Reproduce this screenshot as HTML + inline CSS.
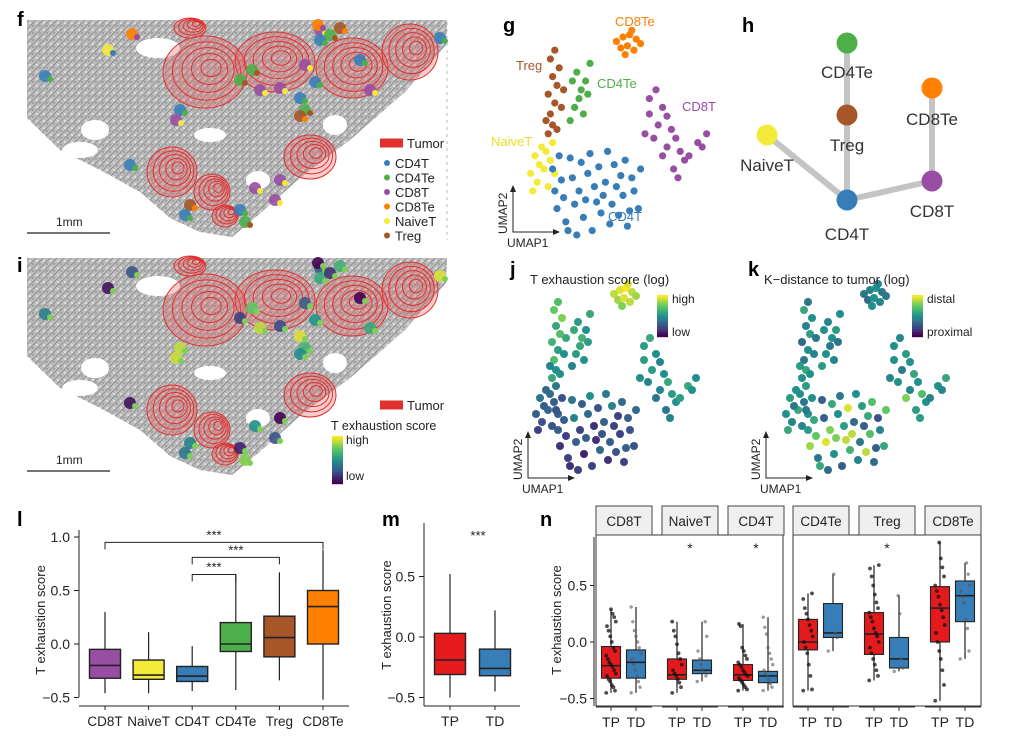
<!DOCTYPE html>
<html><head><meta charset="utf-8"><style>
body{margin:0;background:#fff;font-family:"Liberation Sans",sans-serif}
svg text{font-family:"Liberation Sans",sans-serif}
</style></head><body>
<svg id="fig" width="1030" height="743" viewBox="0 0 1030 743" xmlns="http://www.w3.org/2000/svg">
<defs>
<pattern id="tex" width="7" height="7" patternUnits="userSpaceOnUse"><rect width="7" height="7" fill="#bdbdbd"/><path d="M0 7L7 0" stroke="#8a8a8a" stroke-width="0.9"/><circle cx="2" cy="2" r="1" fill="#e6e6e6"/><circle cx="5" cy="5" r="0.7" fill="#777"/></pattern>
</defs>
<g id="tissueF"></g>
<g id="tissueI"></g>
<g id="panels"></g>
</svg>
<script>
// ---------- data ----------
const cellTypes=["CD8T","NaiveT","CD4T","CD4Te","Treg","CD8Te"];
const typeColors=["#984ea3","#f4ea3a","#377eb8","#4daf4a","#a65628","#ff7f00"];
const lMin=[-0.46,-0.46,-0.44,-0.43,-0.34,-0.52];
const lQ1=[-0.32,-0.33,-0.35,-0.07,-0.12,0.0];
const lMed=[-0.2,-0.29,-0.3,0.0,0.06,0.35];
const lQ3=[-0.05,-0.15,-0.21,0.2,0.26,0.5];
const lMax=[0.3,0.11,-0.02,0.65,0.67,0.88];
const lTicks=[1.0,0.5,0.0,-0.5];
const lTickLabels=["1.0","0.5","0.0","\u22120.5"];
const mGroups=["TP","TD"];
const mMin=[-0.5,-0.45],mQ1=[-0.31,-0.32],mMed=[-0.19,-0.26],mQ3=[0.03,-0.1],mMax=[0.52,0.22];
const mTicks=[0.5,0.0,-0.5];
const nTP_min=[-0.45,-0.45,-0.43,-0.43,-0.34,-0.52];
const nTP_q1=[-0.32,-0.33,-0.34,-0.07,-0.11,0.0];
const nTP_med=[-0.21,-0.29,-0.29,0.0,0.07,0.3];
const nTP_q3=[-0.04,-0.15,-0.2,0.2,0.26,0.49];
const nTP_max=[0.29,0.18,0.16,0.43,0.68,0.88];
const nTD_min=[-0.45,-0.35,-0.43,-0.08,-0.26,-0.15];
const nTD_q1=[-0.32,-0.28,-0.36,0.04,-0.23,0.18];
const nTD_med=[-0.18,-0.25,-0.3,0.08,-0.15,0.41];
const nTD_q3=[-0.07,-0.16,-0.26,0.34,0.04,0.54];
const nTD_max=[0.31,0.18,0.22,0.6,0.41,0.7];
const nSig=["","*","*","","*",""];
const nTP_pts=[
[-0.45,-0.43,-0.4,-0.38,-0.35,-0.33,-0.3,-0.28,-0.25,-0.22,-0.2,-0.18,-0.15,-0.12,-0.08,-0.05,0.0,0.05,0.1,0.14,0.18,0.22,0.25,0.29],
[-0.45,-0.4,-0.36,-0.33,-0.3,-0.28,-0.25,-0.2,-0.15,-0.1,-0.02,0.05,0.1,0.18],
[-0.43,-0.42,-0.4,-0.38,-0.36,-0.34,-0.32,-0.3,-0.29,-0.27,-0.25,-0.22,-0.2,-0.18,-0.15,-0.12,-0.08,-0.05,0.14,0.16],
[-0.43,-0.42,-0.3,-0.2,-0.1,-0.05,0.0,0.05,0.1,0.15,0.2,0.25,0.3,0.38,0.43],
[-0.34,-0.3,-0.25,-0.2,-0.15,-0.1,-0.05,0.0,0.05,0.08,0.12,0.18,0.22,0.26,0.3,0.35,0.42,0.5,0.58,0.65,0.68],
[-0.52,-0.38,-0.25,-0.15,-0.08,0.0,0.08,0.15,0.22,0.28,0.33,0.4,0.45,0.5,0.58,0.66,0.74,0.88]];
const nTD_pts=[
[-0.45,-0.4,-0.35,-0.3,-0.25,-0.2,-0.15,-0.1,-0.05,0.0,0.05,0.1,0.18,0.31],
[-0.35,-0.3,-0.27,-0.24,-0.2,-0.15,-0.08,0.05,0.18],
[-0.43,-0.4,-0.37,-0.34,-0.31,-0.28,-0.25,-0.2,-0.15,-0.1,-0.05,0.07,0.13,0.22],
[-0.08,0.04,0.08,0.6],
[-0.26,-0.23,-0.15,0.25,0.41],
[-0.15,-0.08,0.12,0.2,0.35,0.4,0.45,0.5,0.6,0.7]];
// UMAP points: [u, v, exhaustion score 0-1, distance 0-1]
const umapCD4T=[[18,30,.25,.4],[22,25,.3,.6],[26,35,.4,.3],[30,20,.2,.8],[34,28,.35,.5],[38,15,.15,.9],[42,24,.3,.35],[46,32,.45,.55],[50,18,.2,.7],[54,26,.3,.25],[57,12,.25,.6],[20,12,.15,.85],[24,6,.2,.4],[28,14,.3,.95],[32,8,.1,.5],[36,2,.2,.3],[40,10,.35,.65],[44,5,.15,.45],[48,9,.25,.9],[52,4,.2,.35],[19,20,.3,.55],[23,17,.2,.75],[27,26,.45,.3],[31,33,.3,.6],[35,37,.5,.4],[39,31,.25,.95],[43,38,.4,.5],[47,22,.2,.3],[51,34,.35,.7],[55,20,.25,.45],[25,2,.15,.6],[29,0,.2,.35],[33,16,.3,.8],[37,22,.15,.55],[41,18,.25,.9],[45,14,.3,.4],[49,27,.2,.6],[53,11,.3,.3],[58,30,.35,.75],[21,36,.25,.5]];
const umapTreg=[[16,46,.6,.5],[18,50,.5,.6],[17,55,.7,.4],[19,60,.55,.5],[16,64,.65,.35],[20,68,.7,.55],[18,72,.6,.45],[21,76,.8,.5],[17,80,.75,.6],[19,84,.7,.4],[22,58,.5,.45],[15,52,.45,.55],[20,48,.5,.5],[23,66,.6,.4]];
const umapCD8Te=[[47,88,.9,.4],[50,90,.95,.45],[53,91,1,.5],[56,89,.9,.4],[49,85,.85,.35],[52,86,.95,.5],[55,84,.9,.45],[58,87,.85,.4],[51,82,.8,.5],[54,93,.95,.45]];
const umapCD4Te=[[27,70,.6,.5],[29,74,.55,.45],[31,66,.65,.5],[33,70,.5,.55],[30,62,.6,.4],[28,58,.55,.5],[32,55,.5,.45],[35,78,.6,.5],[26,52,.45,.55],[34,64,.55,.4]];
const umapCD8T=[[62,62,.55,.5],[65,66,.6,.45],[68,58,.5,.55],[70,54,.45,.5],[66,50,.55,.4],[72,48,.5,.6],[74,44,.6,.5],[70,40,.45,.45],[76,38,.55,.7],[78,34,.5,.5],[73,30,.4,.55],[80,36,.55,.45],[84,42,.6,.5],[88,46,.5,.6],[64,44,.45,.5],[60,46,.5,.45],[68,36,.4,.8],[75,26,.45,.55],[62,55,.55,.5],[86,40,.5,.45]];
const umapNaiveT=[[8,28,.3,.5],[11,24,.25,.45],[14,30,.35,.6],[17,34,.3,.4],[10,36,.4,.55],[13,40,.35,.5],[16,22,.25,.45],[19,28,.3,.5],[9,20,.2,.6],[12,32,.3,.4],[15,38,.35,.5],[18,42,.4,.55]];
const umapSets=[umapCD8T,umapNaiveT,umapCD4T,umapCD4Te,umapTreg,umapCD8Te];
const treeNames=["CD4Te","Treg","CD8Te","NaiveT","CD4T","CD8T"];
const treeX=[847,847,932,767,847,932],treeY=[43,115,88,135,200,181];
const treeColors=["#4daf4a","#a65628","#ff7f00","#f4ea3a","#377eb8","#984ea3"];
const treeEdges=[[0,1],[1,4],[3,4],[4,5],[5,2]];

// ---------- helpers ----------
const NS="http://www.w3.org/2000/svg";
const root=document.getElementById('panels');
function mk(tag,at,parent){const e=document.createElementNS(NS,tag);for(const k in at)e.setAttribute(k,at[k]);(parent||root).appendChild(e);return e;}
function txt(x,y,s,at,parent){const e=mk('text',Object.assign({x:x,y:y,'font-size':13,fill:'#222'},at||{}),parent);e.textContent=s;return e;}
function viridis(t){const st=[[68,1,84],[59,82,139],[33,145,140],[94,201,98],[253,231,37]];t=Math.max(0,Math.min(1,t))*4;const i=Math.min(3,Math.floor(t)),f=t-i;const a=st[i],b=st[i+1];return `rgb(${a.map((v,k)=>Math.round(v+(b[k]-v)*f)).join(',')})`;}

// ---------- tissue maps ----------
function tissue(g,dy,mode){
 const p=mk('path',{d:`M27 ${20+dy} L447 ${20+dy} L446 ${45+dy} L405 ${92+dy} L350 ${140+dy} L300 ${178+dy} L262 ${212+dy} L232 ${237+dy} L200 ${232+dy} L170 ${218+dy} L140 ${192+dy} L100 ${170+dy} L60 ${150+dy} L27 ${118+dy} Z`,fill:'url(#tex)'},g);
 
 [[80,150,18,8],[95,130,14,10],[158,48,22,10],[210,135,16,7],[335,125,12,10],[258,180,12,9]].forEach(h=>mk('ellipse',{cx:h[0],cy:h[1]+dy,rx:h[2],ry:h[3],fill:'#fff'},g));
 const blobs=[[205,72,42,36],[275,62,40,30],[352,68,36,30],[410,52,28,28],[190,28,16,10],[172,172,25,25],[212,192,18,18],[310,157,26,22],[225,216,13,11]];
 blobs.forEach(b=>{mk('ellipse',{cx:b[0],cy:b[1]+dy,rx:b[2],ry:b[3],fill:'rgba(235,90,90,0.3)',stroke:'#e03030','stroke-width':1},g);
  for(let k=1;k<5;k++)mk('ellipse',{cx:b[0]+k*1.5,cy:b[1]+dy-k,rx:b[2]*(1-k*0.19),ry:b[3]*(1-k*0.19),fill:'none',stroke:'#e03030','stroke-width':1},g);});
 const cells=[[45,76,2],[108,50,1],[132,34,5],[320,30,0],[320,40,2],[340,28,4],[305,65,0],[315,82,2],[360,60,2],[370,90,0],[180,110,2],[176,120,0],[240,80,3],[260,90,0],[280,88,0],[305,110,3],[300,98,2],[440,38,2],[255,188,0],[275,200,0],[240,210,2],[245,222,3],[190,205,4],[130,165,2],[185,215,2],[280,180,0],[318,25,5],[330,35,3],[252,70,3],[300,116,4]];
 cells.forEach(c=>{const col=mode==='type'?typeColors[c[2]]:viridis(((c[0]*7+c[1]*3)%100)/100);
  mk('circle',{cx:c[0],cy:c[1]+dy,r:6,fill:col,opacity:0.9},g);mk('circle',{cx:c[0]+5,cy:c[1]+dy+3,r:3,fill:mode==='type'?typeColors[(c[2]+1)%6]:viridis(0.8)},g);});
 mk('line',{x1:27,y1:233+dy,x2:110,y2:233+dy,stroke:'#222','stroke-width':1.2},g);
 txt(56,226+dy,'1mm',{'font-size':12},g);
 const ly=mode==='type'?143:405;
 mk('line',{x1:380,y1:ly,x2:403,y2:ly,stroke:'#e03030','stroke-width':9},g);
}
const gF=document.getElementById('tissueF'),gI=document.getElementById('tissueI');
tissue(gF,0,'type');tissue(gI,238,'score');
txt(407,148,'Tumor',{},gF);
["CD4T","CD4Te","CD8T","CD8Te","NaiveT","Treg"].forEach((n,i)=>{const ci=[2,3,0,5,1,4][i];
 mk('circle',{cx:387,cy:163+i*14.5,r:3,fill:typeColors[ci]},gF);txt(395,168+i*14.5,n,{},gF);});
txt(407,410,'Tumor',{},gI);
txt(331,430,'T exhaustion score',{'font-size':12.5},gI);
for(let k=0;k<24;k++)mk('rect',{x:332,y:436+k*2,width:11,height:2.2,fill:viridis(1-k/23)},gI);
txt(346,444,'high',{'font-size':12},gI);txt(346,480,'low',{'font-size':12},gI);
mk('line',{x1:447,y1:22,x2:447,y2:240,stroke:'#bbb','stroke-dasharray':'3 4'},gF);

// panel letters
[['f',17,26],['g',503,32],['h',742,32],['i',17,272],['j',510,276],['k',748,276],['l',17,526],['m',382,526],['n',540,526]].forEach(l=>{const t=txt(l[1],l[2],l[0],{'font-size':20,'font-weight':'bold',fill:'#000'});});

// ---------- UMAP panels ----------
function umap(ox,oy,sc,colorFn,gname,r){
 const g=mk('g',{});
 const X=u=>ox+u*sc, Y=v=>oy-v*sc;
 umapSets.forEach((set,ci)=>set.forEach(p=>{const c=mk('circle',{cx:X(p[0]),cy:Y(p[1]),r:r,fill:colorFn(p,ci)},g);}));
 return g;
}
umap(513,235,2.2,(p,ci)=>typeColors[ci],'umap-celltype',3.6);
[['CD8Te',615,26,'#ff7f00'],['Treg',516,70,'#a65628'],['CD4Te',597,88,'#4daf4a'],['CD8T',682,111,'#984ea3'],['NaiveT',491,146,'#e8df20'],['CD4T',608,221,'#377eb8']].forEach(a=>txt(a[1],a[2],a[0],{fill:a[3],'font-size':13}));
function axesArrow(x,y){mk('path',{d:`M${x} ${y-45}L${x} ${y}L${x+45} ${y}`,fill:'none',stroke:'#222','stroke-width':1});
 mk('path',{d:`M${x-3} ${y-40}L${x} ${y-47}L${x+3} ${y-40}Z`,fill:'#222'});mk('path',{d:`M${x+40} ${y-3}L${x+47} ${y}L${x+40} ${y+3}Z`,fill:'#222'});
 txt(x-6,y+2,'UMAP2',{transform:`rotate(-90 ${x-6} ${y+2})`,'font-size':12});txt(x-6,y+15,'UMAP1',{'font-size':12});}
axesArrow(513,232);axesArrow(528,478);axesArrow(766,478);
umap(520,470,2.0,p=>viridis(p[2]),'umap-exhaustion',4);
umap(770,470,2.0,p=>viridis(p[3]),'umap-distance',4);
txt(530,284,'T exhaustion score (log)',{'font-size':13});
txt(764,284,'K\u2212distance to tumor (log)',{'font-size':13});
for(let k=0;k<20;k++){mk('rect',{x:657,y:295+k*2.1,width:11,height:2.3,fill:viridis(1-k/19)});mk('rect',{x:912,y:295+k*2.1,width:11,height:2.3,fill:viridis(1-k/19)});}
txt(672,303,'high',{'font-size':12});txt(672,336,'low',{'font-size':12});
txt(927,303,'distal',{'font-size':12});txt(927,336,'proximal',{'font-size':12});

// ---------- tree h ----------
treeEdges.forEach(e=>mk('line',{x1:treeX[e[0]],y1:treeY[e[0]],x2:treeX[e[1]],y2:treeY[e[1]],stroke:'#c4c4c4','stroke-width':6}));
treeNames.forEach((n,i)=>{const c=mk('circle',{cx:treeX[i],cy:treeY[i],r:10.5,fill:treeColors[i]});
 const ly=[73,146,120,166,235,212][i];txt(treeX[i],ly+5,n,{'text-anchor':'middle','font-size':17,fill:'#333'});});

// ---------- box helper ----------
function box(cx,w,Y,mn,q1,md,q3,mx,fill,name,lw){
 const g=mk('g',{});
 mk('line',{x1:cx,y1:Y(mx),x2:cx,y2:Y(mn),stroke:'#222','stroke-width':1.2},g);
 mk('rect',{x:cx-w/2,y:Y(q3),width:w,height:Y(q1)-Y(q3),fill:fill,stroke:'#222','stroke-width':lw||1.4},g);
 mk('line',{x1:cx-w/2,y1:Y(md),x2:cx+w/2,y2:Y(md),stroke:'#222','stroke-width':1.6},g);
 return g;}

// ---------- panel l ----------
const lY=v=>644-107*v;
const lX=i=>105+i*43.6;
mk('line',{x1:79,y1:530,x2:79,y2:697,stroke:'#222'});mk('line',{x1:79,y1:706,x2:349,y2:706,stroke:'#222'});
lTicks.forEach((t,i)=>{mk('line',{x1:74,y1:lY(t),x2:79,y2:lY(t),stroke:'#222'});txt(70,lY(t)+5,lTickLabels[i],{'text-anchor':'end','font-size':14});});
txt(45,620,'T exhaustion score',{transform:'rotate(-90 45 620)','text-anchor':'middle','font-size':13});
cellTypes.forEach((c,i)=>{box(lX(i),31,lY,lMin[i],lQ1[i],lMed[i],lQ3[i],lMax[i],typeColors[i],'box-'+c.toLowerCase());
 mk('line',{x1:lX(i),y1:706,x2:lX(i),y2:710,stroke:'#222'});txt(lX(i),726,c,{'text-anchor':'middle','font-size':13.5});});
[[0,5,0.95],[2,4,0.81],[2,3,0.65]].forEach(b=>{const y=lY(b[2]);mk('path',{d:`M${lX(b[0])} ${y+7}V${y}H${lX(b[1])}V${y+7}`,fill:'none',stroke:'#222'});txt((lX(b[0])+lX(b[1]))/2,y-3,'***',{'text-anchor':'middle','font-size':13});});

// ---------- panel m ----------
const mY=v=>637-121*v;const mX=i=>450+i*45;
mk('line',{x1:424,y1:523,x2:424,y2:706,stroke:'#222'});mk('line',{x1:424,y1:706,x2:520,y2:706,stroke:'#222'});
mTicks.forEach((t,i)=>{mk('line',{x1:419,y1:mY(t),x2:424,y2:mY(t),stroke:'#222'});txt(415,mY(t)+5,["0.5","0.0","\u22120.5"][i],{'text-anchor':'end','font-size':14});});
txt(391,615,'T exhaustion score',{transform:'rotate(-90 391 615)','text-anchor':'middle','font-size':13});
mGroups.forEach((gn,i)=>{box(mX(i),31,mY,mMin[i],mQ1[i],mMed[i],mQ3[i],mMax[i],i?'#377eb8':'#e41a1c','box-m-'+gn.toLowerCase());
 mk('line',{x1:mX(i),y1:706,x2:mX(i),y2:710,stroke:'#222'});txt(mX(i),726,gn,{'text-anchor':'middle','font-size':14});});
txt(478,540,'***',{'text-anchor':'middle','font-size':13});

// ---------- panel n ----------
const nY=v=>642-113*v;
const nPX=[596,662,728,793,859,925];
mk('line',{x1:594,y1:537,x2:594,y2:706,stroke:'#222'});
[0.5,0.0,-0.5].forEach((t,i)=>{mk('line',{x1:590,y1:nY(t),x2:594,y2:nY(t),stroke:'#222'});txt(587,nY(t)+5,["0.5","0.0","\u22120.5"][i],{'text-anchor':'end','font-size':14});});
txt(561,620,'T exhaustion score',{transform:'rotate(-90 561 620)','text-anchor':'middle','font-size':13});
mk('rect',{x:596,y:535,width:187,height:171,fill:'none',stroke:'#333','stroke-width':1});
mk('rect',{x:793,y:535,width:188,height:171,fill:'none',stroke:'#333','stroke-width':1});
cellTypes.forEach((c,i)=>{const x0=nPX[i];
 const s=mk('rect',{x:x0,y:506,width:56,height:29,fill:'#efefef',stroke:'#444'});
 txt(x0+28,526,c,{'text-anchor':'middle','font-size':13.5});
 mk('line',{x1:x0,y1:707,x2:x0+56,y2:707,stroke:'#333'});
 const tx=x0+15,dx=x0+40;
 box(tx,19,nY,nTP_min[i],nTP_q1[i],nTP_med[i],nTP_q3[i],nTP_max[i],'#e41a1c','box-n-'+c.toLowerCase()+'-tp',1.1);
 box(dx,19,nY,nTD_min[i],nTD_q1[i],nTD_med[i],nTD_q3[i],nTD_max[i],'#377eb8','box-n-'+c.toLowerCase()+'-td',1.1);
 nTP_pts[i].forEach((v,k)=>mk('circle',{cx:tx+((k*37)%13-6)*0.8,cy:nY(v),r:1.9,fill:'#111',opacity:0.75}));
 nTD_pts[i].forEach((v,k)=>mk('circle',{cx:dx+((k*37)%13-6)*0.8,cy:nY(v),r:1.7,fill:'#555',opacity:0.6}));
 [tx,dx].forEach(x=>mk('line',{x1:x,y1:707,x2:x,y2:711,stroke:'#333'}));
 txt(tx,727,'TP',{'text-anchor':'middle','font-size':14});txt(dx,727,'TD',{'text-anchor':'middle','font-size':14});
 if(nSig[i])txt(x0+28,553,nSig[i],{'text-anchor':'middle','font-size':14});
});
</script>
</body></html>
